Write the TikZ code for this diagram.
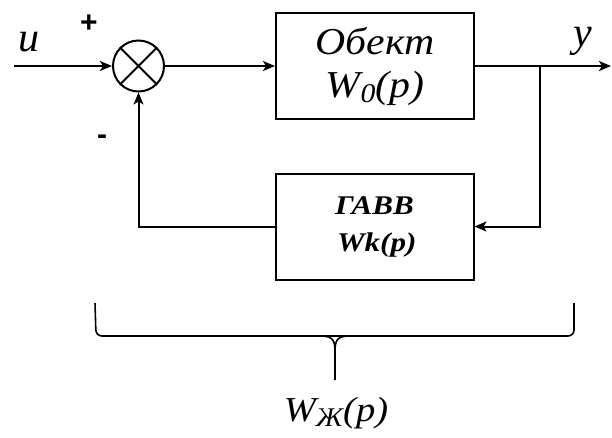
\documentclass[tikz,border=0pt]{standalone}
\usepackage{fontspec}
\setmainfont{Liberation Serif}[ItalicFont={Liberation Serif Italic},
  BoldItalicFont={Liberation Serif Bold Italic}]
\newfontfamily\signfont{Liberation Sans}
\usetikzlibrary{arrows.meta}
\newcommand{\wsub}[1]{\raisebox{-0.15em}{\fontsize{27}{27}\selectfont\addfontfeature{FakeStretch=1.1}#1}}

\begin{document}
\begin{tikzpicture}[x=1pt,y=-1pt,line width=2pt,
    >={Stealth[length=12pt,width=10pt,inset=3pt]},
    block/.style={draw,minimum width=198pt,minimum height=106pt,
      align=center,inner sep=0pt},
    lbl/.style={font=\fontsize{42}{44}\selectfont\itshape},
    sign/.style={font=\fontsize{30}{32}\signfont\bfseries}]
  \useasboundingbox (0,0) rectangle (612,437);
  % blocks
  \node[draw,circle,minimum size=51pt,inner sep=0pt] (sum) at (138.5,66) {};
  \draw (sum.45) -- (sum.225) (sum.135) -- (sum.315);
  \node[block,font=\fontsize{38}{43}\selectfont\itshape\addfontfeature{FakeStretch=1.1}]
    (obj) at (375,66) {Обект\\W\wsub{0}(p)};
  \node[block,font=\fontsize{27}{37}\selectfont\bfseries\itshape\addfontfeature{FakeStretch=1.15}]
    (fbk) at (374.5,226.5) {ГАВВ\\\,Wk(p)};
  % signals
  \coordinate (in) at (14,66);
  \coordinate (br) at (540,66);
  \coordinate (out) at (611,66);
  \draw[->] (in) -- (sum);
  \draw[->] (sum) -- (obj);
  \draw[->] (obj) -- (out);
  \draw[->] (br) |- (fbk);
  \draw[->] (fbk) -| (sum);
  \node[lbl] (u) at (29,42) {u};
  \node[lbl] (y) at (583,41) {y};
  \node[sign] (plus) at (89,24) {+};
  \node[sign] (minus) at (102,140) {-};
  % brace
  \coordinate (bl) at (95,303);
  \coordinate (bm) at (335,380);
  \coordinate (bre) at (574,303);
  \draw[line width=1.6pt,rounded corners=6pt] (bl) -- (96,336) -- (bre |- 0,336) -- (bre);
  \draw[line width=1.6pt] (320,336) .. controls (333,336) and (335,340) .. (335,352) -- (bm)
    (350,336) .. controls (337,336) and (335,340) .. (335,352);
  \node[font=\fontsize{35}{36}\selectfont\itshape\addfontfeature{FakeStretch=1.1}]
    (wz) at (336,413) {W\wsub{Ж}(p)};
\end{tikzpicture}
\end{document}
